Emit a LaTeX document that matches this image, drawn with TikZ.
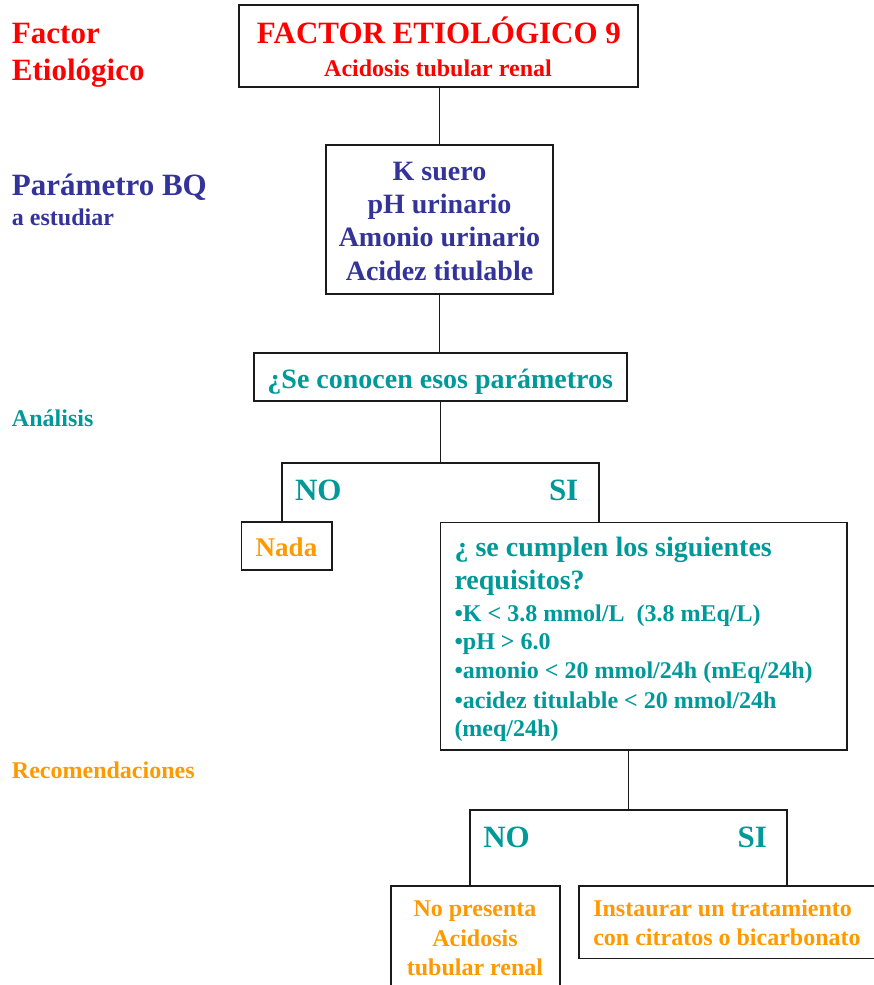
\documentclass[tikz,border=0pt]{standalone}
\usepackage{fontspec}
\setmainfont{Liberation Serif}
\definecolor{cred}{HTML}{FF0000}
\definecolor{cnavy}{HTML}{333399}
\definecolor{cteal}{HTML}{009999}
\definecolor{corange}{HTML}{FF9900}
\definecolor{cline}{HTML}{1A1A1A}
\tikzset{
  box/.style={draw=cline, line width=1.8pt, inner sep=0pt, outer sep=0pt},
  conn/.style={draw=cline, line width=1.9pt},
  txt/.style={inner sep=0pt, outer sep=0pt, anchor=base},
  txtl/.style={inner sep=0pt, outer sep=0pt, anchor=base west},
  fbig/.style={font=\bfseries\fontsize{31}{36}\selectfont},
  fmid/.style={font=\bfseries\fontsize{28}{33}\selectfont},
  fsml/.style={font=\bfseries\fontsize{24}{29}\selectfont},
}
\begin{document}
\begin{tikzpicture}[x=1pt,y=-1pt]
\useasboundingbox (0,0) rectangle (874,985);
\clip (0,0) rectangle (874,985);
% boxes
\node[box, minimum width=399pt, minimum height=82pt] (b1) at (438.5,46) {};
\node[box, minimum width=227pt, minimum height=149pt] (b2) at (439.5,219.5) {};
\node[box, minimum width=373pt, minimum height=48pt] (b3) at (440.5,377) {};
\node[box, minimum width=90.5pt, minimum height=48pt] (nada) at (286.75,546) {};
\node[box, minimum width=406.5pt, minimum height=227.5pt] (b5) at (643.75,636.25) {};
\node[box, minimum width=169pt, minimum height=124pt] (b6) at (475.5,948) {};
\node[box, minimum width=321pt, minimum height=72.5pt] (b7) at (739.5,922.25) {};
% left labels
\node[txtl, fbig, text=cred] (lf1) at (12,43.3) {Factor};
\node[txtl, fbig, text=cred] (lf2) at (12,80) {Etiológico};
\node[txtl, fbig, text=cnavy] (lp1) at (12,195) {Parámetro BQ};
\node[txtl, fsml, text=cnavy] (lp2) at (12,225.7) {a estudiar};
\node[txtl, fsml, text=cteal] (la) at (12,426) {Análisis};
\node[txtl, fsml, text=corange] (lr) at (12,778.3) {Recomendaciones};
% box 1 text
\node[txt, fbig, text=cred] (t1a) at (439,43.3) {FACTOR ETIOLÓGICO 9};
\node[txt, fsml, text=cred] (t1b) at (438,76) {Acidosis tubular renal};
% box 2 text
\node[txt, fmid, text=cnavy] (t2a) at (439.5,180) {K suero};
\node[txt, fmid, text=cnavy] (t2b) at (439.5,213) {pH urinario};
\node[txt, fmid, text=cnavy] (t2c) at (439.5,246.5) {Amonio urinario};
\node[txt, fmid, text=cnavy] (t2d) at (439.5,280) {Acidez titulable};
% box 3 text
\node[txt, fmid, text=cteal] (t3) at (440.2,388.3) {¿Se conocen esos parámetros};
% branch labels 1
\node[txtl, fbig, text=cteal] (no1) at (295,500) {NO};
\node[txtl, fbig, text=cteal] (si1) at (549,500) {SI};
\node[txt, font=\bfseries\fontsize{27}{32}\selectfont, text=corange] (tn) at (286.5,556.7) {Nada};
% box 5 text
\node[txtl, fmid, text=cteal] (t5a) at (454.5,556.7) {¿ se cumplen los siguientes};
\node[txtl, fmid, text=cteal] (t5b) at (454.5,589.3) {requisitos?};
\node[txtl, fsml, text=cteal] (t5c) at (454.5,621) {•K < 3.8 mmol/L\ \ (3.8 mEq/L)};
\node[txtl, fsml, text=cteal] (t5d) at (454.5,649.3) {•pH > 6.0};
\node[txtl, fsml, text=cteal] (t5e) at (454.5,678.7) {•amonio < 20 mmol/24h (mEq/24h)};
\node[txtl, fsml, text=cteal] (t5f) at (454.5,708) {•acidez titulable < 20 mmol/24h};
\node[txtl, fsml, text=cteal] (t5g) at (454.5,736.7) {(meq/24h)};
% branch labels 2
\node[txtl, fbig, text=cteal] (no2) at (483.3,847.3) {NO};
\node[txtl, fbig, text=cteal] (si2) at (737.7,847.3) {SI};
% box 6 text
\node[txt, fsml, text=corange] (t6a) at (475,916.7) {No presenta};
\node[txt, fsml, text=corange] (t6b) at (475,946) {Acidosis};
\node[txt, fsml, text=corange] (t6c) at (475,975) {tubular renal};
% box 7 text
\node[txtl, fsml, text=corange] (t7a) at (593.3,916.7) {Instaurar un tratamiento};
\node[txtl, fsml, text=corange] (t7b) at (593.3,945) {con citratos o bicarbonato};
% connectors
\coordinate (s1L) at (282,463);
\coordinate (s1R) at (599,463);
\coordinate (s2L) at (470,810);
\coordinate (s2M) at (628.5,810);
\coordinate (s2R) at (787,810);
\draw[conn] (b2.north) -- (b2.north |- b1.south);
\draw[conn] (b2.south) -- (b2.south |- b3.north);
\draw[conn] (b3.south) -- (b3.south |- s1L);
\draw[conn] (s1L |- nada.north) -- (s1L) -- (s1R) -- (s1R |- b5.north);
\draw[conn] (s2M |- b5.south) -- (s2M);
\draw[conn] (s2L |- b6.north) -- (s2L) -- (s2R) -- (s2R |- b7.north);
\end{tikzpicture}
\end{document}
